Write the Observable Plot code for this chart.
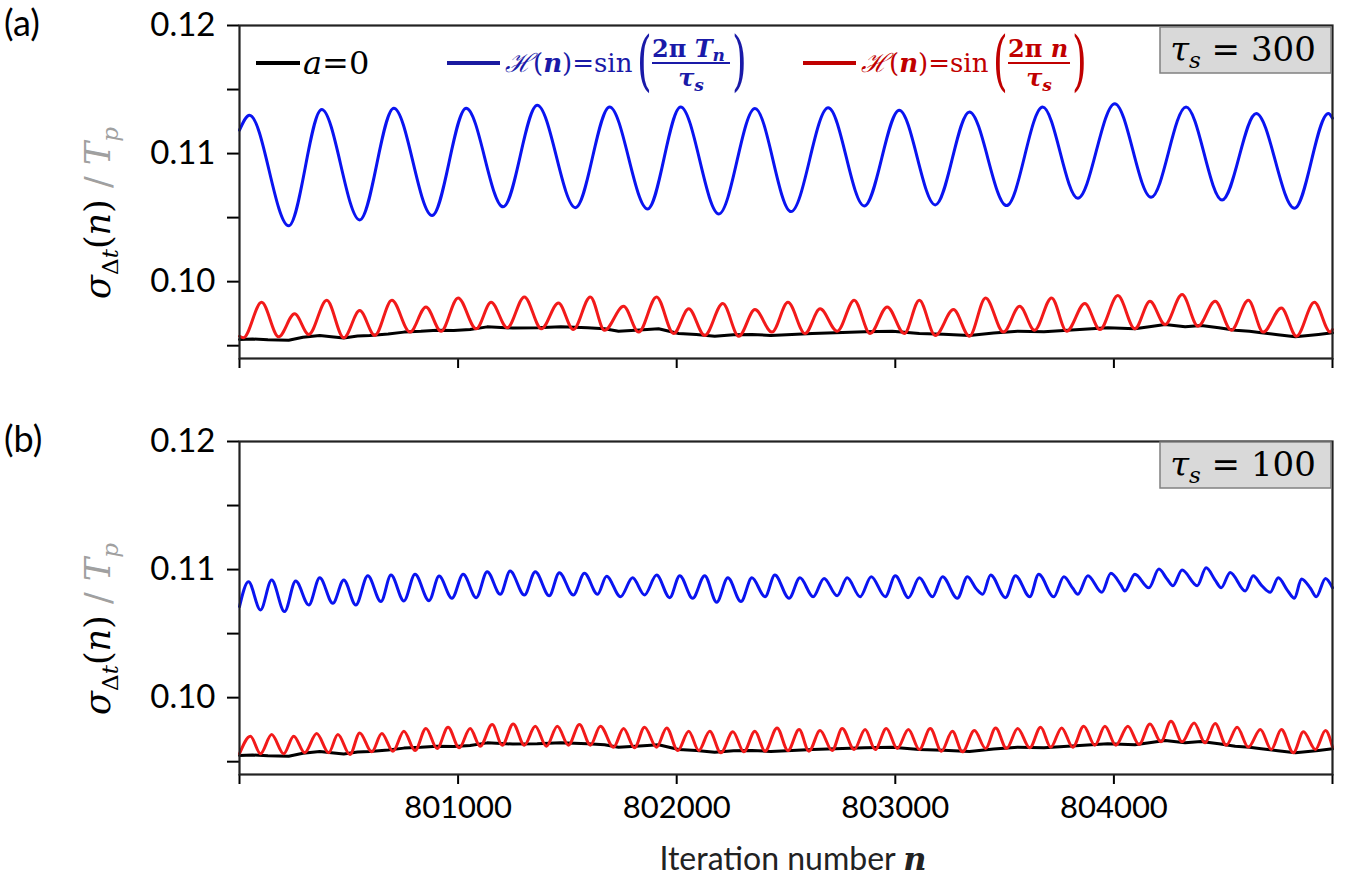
<!DOCTYPE html>
<html>
<head>
<meta charset="utf-8">
<script src="https://cdn.jsdelivr.net/npm/d3@7"></script>
<script src="https://cdn.jsdelivr.net/npm/@observablehq/plot@0.6"></script>
<style>
  html, body { margin: 0; padding: 0; background: white; }
  #wrap { position: relative; width: 1346px; height: 888px; overflow: hidden; }
  #pa, #pb, #ov { position: absolute; left: 0; }
  #pa { top: 0; }
  #pb { top: 416px; }
  #ov { top: 0; pointer-events: none; }
</style>
</head>
<body>
<div id="wrap">
  <div id="pa"></div>
  <div id="pb"></div>
  <svg id="ov" width="1346" height="888"></svg>
</div>
<script>
// ---------- data: [iteration n, sigma_dt / Tp] ----------
const xTicks = [800000, 801000, 802000, 803000, 804000, 805000];
const xTickLabels = [801000, 802000, 803000, 804000];
const yTicks = [0.095, 0.100, 0.105, 0.110, 0.115, 0.120];
const yTickLabels = [0.10, 0.11, 0.12];
const panelNames = ["(a)", "(b)"];
const tauValues = [300, 100];

// a = 0 baseline (same in both panels)
const baseA0 = [
  [800000,0.09549],[800060,0.09552],[800130,0.09546],[800225,0.09543],[800290,0.09566],
  [800367,0.09580],[800420,0.09570],[800477,0.09560],[800540,0.09575],[800596,0.09580],
  [800680,0.09592],[800752,0.09606],[800830,0.09612],[800904,0.09621],[800980,0.09618],
  [801055,0.09626],[801133,0.09647],[801250,0.09638],[801362,0.09640],[801470,0.09648],
  [801592,0.09640],[801670,0.09632],[801734,0.09613],[801830,0.09622],[801917,0.09632],
  [802009,0.09595],[802090,0.09588],[802174,0.09574],[802260,0.09585],[802344,0.09588],
  [802430,0.09580],[802527,0.09588],[802620,0.09596],[802725,0.09601],[802860,0.09608],
  [802986,0.09613],[803110,0.09595],[803220,0.09590],[803339,0.09580],[803450,0.09600],
  [803560,0.09613],[803680,0.09608],[803789,0.09621],[803880,0.09630],[803972,0.09640],
  [804096,0.09632],[804170,0.09650],[804234,0.09665],[804326,0.09647],[804399,0.09657],
  [804480,0.09640],[804555,0.09621],[804620,0.09612],[804674,0.09601],[804750,0.09585],
  [804830,0.09570],[804936,0.09588],[805000,0.09601]
];

// tau_s = 300, H(n) = sin(2π Tn / τs)
const blue300 = [
  [800000,0.11183],[800046,0.11300],[800225,0.10436],[800376,0.11344],[800550,0.10482],
  [800706,0.11354],[800881,0.10516],[801037,0.11354],[801206,0.10584],[801362,0.11377],
  [801537,0.10578],[801693,0.11364],[801867,0.10568],[802018,0.11364],[802193,0.10529],
  [802358,0.11352],[802523,0.10547],[802693,0.11357],[802858,0.10591],[803018,0.11339],
  [803183,0.10599],[803339,0.11325],[803509,0.10594],[803674,0.11364],[803835,0.10651],
  [804004,0.11390],[804170,0.10659],[804330,0.11364],[804495,0.10638],[804651,0.11313],
  [804826,0.10573],[804981,0.11313],[805000,0.11276]
];

// tau_s = 300, H(n) = sin(2π n / τs)
const red300 = [
  [800000,0.09574],[800018,0.09562],[800101,0.09839],[800179,0.09570],[800252,0.09749],
  [800317,0.09588],[800399,0.09855],[800477,0.09562],[800550,0.09774],[800619,0.09580],
  [800697,0.09855],[800780,0.09606],[800853,0.09803],[800922,0.09613],[801000,0.09873],
  [801083,0.09632],[801151,0.09839],[801225,0.09640],[801303,0.09881],[801381,0.09632],
  [801459,0.09834],[801527,0.09626],[801605,0.09881],[801670,0.09620],[801757,0.09808],
  [801826,0.09606],[801908,0.09881],[801986,0.09595],[802055,0.09788],[802128,0.09580],
  [802211,0.09829],[802284,0.09574],[802358,0.09782],[802436,0.09606],[802509,0.09839],
  [802587,0.09595],[802656,0.09788],[802734,0.09613],[802812,0.09855],[802885,0.09595],
  [802963,0.09803],[803041,0.09595],[803110,0.09855],[803183,0.09580],[803266,0.09782],
  [803339,0.09574],[803413,0.09873],[803495,0.09606],[803569,0.09808],[803637,0.09621],
  [803715,0.09873],[803784,0.09613],[803867,0.09829],[803936,0.09626],[804018,0.09891],
  [804096,0.09632],[804165,0.09847],[804234,0.09665],[804312,0.09899],[804385,0.09652],
  [804463,0.09847],[804537,0.09621],[804615,0.09855],[804683,0.09606],[804766,0.09795],
  [804835,0.09574],[804917,0.09839],[804990,0.09606],[805000,0.09626]
];

// tau_s = 100, H(n) = sin(2π Tn / τs)
const blue100 = [
  [800000,0.10711],[800041,0.10905],[800096,0.10685],[800147,0.10918],[800206,0.10672],
  [800257,0.10911],[800317,0.10724],[800367,0.10936],[800427,0.10737],[800477,0.10918],
  [800532,0.10724],[800587,0.10952],[800647,0.10750],[800693,0.10957],[800752,0.10755],
  [800803,0.10963],[800867,0.10757],[800913,0.10949],[800972,0.10776],[801023,0.10963],
  [801083,0.10781],[801133,0.10983],[801193,0.10807],[801238,0.10988],[801303,0.10802],
  [801353,0.10983],[801417,0.10796],[801463,0.10976],[801527,0.10802],[801578,0.10971],
  [801638,0.10807],[801679,0.10948],[801743,0.10788],[801798,0.10936],[801853,0.10802],
  [801908,0.10957],[801968,0.10781],[802014,0.10952],[802073,0.10776],[802128,0.10952],
  [802183,0.10745],[802234,0.10936],[802294,0.10750],[802344,0.10936],[802404,0.10788],
  [802449,0.10957],[802514,0.10776],[802564,0.10936],[802624,0.10788],[802674,0.10931],
  [802734,0.10796],[802780,0.10936],[802839,0.10788],[802890,0.10944],[802954,0.10788],
  [803000,0.10952],[803060,0.10781],[803110,0.10936],[803170,0.10788],[803216,0.10944],
  [803284,0.10776],[803330,0.10944],[803370,0.10850],[803400,0.10807],[803436,0.10957],
  [803504,0.10781],[803550,0.10952],[803615,0.10788],[803656,0.10963],[803725,0.10788],
  [803771,0.10944],[803812,0.10854],[803835,0.10807],[803881,0.10952],[803945,0.10823],
  [803986,0.10971],[804032,0.10879],[804050,0.10833],[804096,0.10963],[804160,0.10858],
  [804206,0.11004],[804243,0.10926],[804270,0.10874],[804312,0.10996],[804381,0.10874],
  [804422,0.11014],[804463,0.10918],[804491,0.10858],[804532,0.10978],[804601,0.10833],
  [804637,0.10952],[804674,0.10879],[804715,0.10823],[804752,0.10936],[804793,0.10840],
  [804826,0.10776],[804858,0.10926],[804899,0.10854],[804926,0.10788],[804968,0.10931],
  [805000,0.10858]
];

// tau_s = 100, H(n) = sin(2π n / τs)
const red100 = [
  [800000,0.09562],[800050,0.09699],[800096,0.09562],[800147,0.09712],[800202,0.09562],
  [800248,0.09699],[800298,0.09570],[800353,0.09720],[800408,0.09570],[800450,0.09712],
  [800505,0.09556],[800550,0.09725],[800605,0.09577],[800651,0.09720],[800702,0.09582],
  [800752,0.09738],[800803,0.09587],[800853,0.09759],[800904,0.09603],[800954,0.09769],
  [801005,0.09608],[801055,0.09759],[801101,0.09621],[801156,0.09790],[801202,0.09629],
  [801252,0.09795],[801303,0.09629],[801353,0.09777],[801404,0.09621],[801454,0.09777],
  [801505,0.09629],[801555,0.09790],[801605,0.09629],[801651,0.09777],[801711,0.09613],
  [801757,0.09759],[801807,0.09608],[801853,0.09769],[801908,0.09613],[801954,0.09764],
  [802005,0.09587],[802055,0.09738],[802101,0.09587],[802151,0.09738],[802202,0.09570],
  [802257,0.09733],[802307,0.09577],[802358,0.09738],[802404,0.09582],[802459,0.09764],
  [802509,0.09587],[802560,0.09751],[802605,0.09582],[802656,0.09743],[802711,0.09587],
  [802757,0.09759],[802812,0.09595],[802862,0.09751],[802908,0.09595],[802959,0.09759],
  [803009,0.09603],[803060,0.09751],[803110,0.09595],[803160,0.09759],[803211,0.09582],
  [803261,0.09738],[803307,0.09577],[803362,0.09743],[803413,0.09603],[803459,0.09764],
  [803509,0.09603],[803560,0.09759],[803615,0.09608],[803665,0.09769],[803711,0.09613],
  [803761,0.09764],[803812,0.09613],[803862,0.09777],[803913,0.09629],[803959,0.09777],
  [804009,0.09629],[804064,0.09777],[804115,0.09634],[804165,0.09795],[804215,0.09655],
  [804261,0.09816],[804312,0.09655],[804367,0.09803],[804417,0.09647],[804463,0.09798],
  [804514,0.09629],[804564,0.09769],[804615,0.09613],[804670,0.09751],[804720,0.09595],
  [804766,0.09751],[804821,0.09570],[804867,0.09733],[804922,0.09595],[804968,0.09743],
  [805000,0.09613]
];

// ---------- drawing ----------
const BLUE = "#0a14f0", RED = "#f21a1a", BLACK = "#000000";
const isLabY = d => yTickLabels.some(v => Math.abs(v - d) < 1e-9);

function panel(blue, red, showX, height, marginBottom) {
  return Plot.plot({
    width: 1346, height,
    marginLeft: 239, marginRight: 14, marginTop: 25, marginBottom,
    x: {domain: [800000, 805000]},
    y: {domain: [0.094, 0.12]},
    style: {fontFamily: "Lato, 'Open Sans', sans-serif", fontSize: "33px", color: "black", background: "white", overflow: "visible"},
    marks: [
      Plot.axisY({ticks: yTicks, tickSize: 12, tickPadding: 12, strokeWidth: 2,
        tickFormat: d => isLabY(d) ? d.toFixed(2) : "", label: null, fontSize: 33}),
      Plot.axisX({ticks: xTicks, tickSize: 10, tickPadding: 11, strokeWidth: 2,
        tickFormat: d => (showX && xTickLabels.includes(d)) ? String(d) : "", label: null, fontSize: 31}),
      Plot.line(baseA0, {x: d => d[0], y: d => d[1], stroke: BLACK, strokeWidth: 3}),
      Plot.line(red, {x: d => d[0], y: d => d[1], stroke: RED, strokeWidth: 3, curve: "monotone-x"}),
      Plot.line(blue, {x: d => d[0], y: d => d[1], stroke: BLUE, strokeWidth: 3, curve: "monotone-x"}),
      Plot.frame({stroke: "#222", strokeWidth: 2.2})
    ]
  });
}

document.getElementById("pa").appendChild(panel(blue300, red300, false, 400, 42));
document.getElementById("pb").appendChild(panel(blue100, red100, true, 472, 114));

// ---------- text overlays (labels, legend, annotations) ----------
const ov = d3.select("#ov");
const MATH = "'DejaVu Serif', 'Liberation Serif', serif";
const SANS = "Lato, 'Open Sans', sans-serif";

// panel labels
[[0, 0], [1, 416]].forEach(([i, dy]) => {
  ov.append("text").attr("x", 4).attr("y", 36 + dy).attr("font-family", SANS)
    .attr("font-size", 36).text(panelNames[i]);
});

// y-axis titles
[213, 629].forEach(cy => {
  const t = ov.append("text").attr("transform", `translate(110,${cy}) rotate(-90)`)
    .attr("text-anchor", "middle").attr("font-family", MATH).attr("font-size", 35);
  t.append("tspan").attr("font-style", "italic").text("σ");
  t.append("tspan").attr("font-size", 23).attr("dy", 8).text("Δ");
  t.append("tspan").attr("font-size", 23).attr("font-style", "italic").text("t");
  t.append("tspan").attr("dy", -8).text("(");
  t.append("tspan").attr("font-style", "italic").text("n");
  t.append("tspan").text(")");
  t.append("tspan").attr("fill", "#a0a0a0").text(" / ");
  t.append("tspan").attr("fill", "#a0a0a0").attr("font-style", "italic").text("T");
  t.append("tspan").attr("fill", "#a0a0a0").attr("font-size", 23).attr("font-style", "italic").attr("dy", 8).text("p");
});

// tau_s boxes
[[27, 0], [442, 1]].forEach(([top, i]) => {
  ov.append("rect").attr("x", 1160).attr("y", top).attr("width", 171).attr("height", 46)
    .attr("fill", "#d9d9d9").attr("stroke", "#808080").attr("stroke-width", 1.5);
  const t = ov.append("text").attr("x", 1243).attr("y", top + 34).attr("text-anchor", "middle")
    .attr("font-family", MATH).attr("font-size", 34);
  t.append("tspan").attr("font-style", "italic").text("τ");
  t.append("tspan").attr("font-style", "italic").attr("font-size", 23).attr("dy", 7).text("s");
  t.append("tspan").attr("dy", -7).text(" = " + tauValues[i]);
});

// legend
const LY = 63;
ov.append("line").attr("x1", 256).attr("x2", 300).attr("y1", LY).attr("y2", LY)
  .attr("stroke", "#000").attr("stroke-width", 4);
{
  const t = ov.append("text").attr("x", 303).attr("y", LY + 11).attr("font-family", MATH).attr("font-size", 32);
  t.append("tspan").attr("font-style", "italic").text("a");
  t.append("tspan").text("=0");
}

function mathLegend(x0, lineColor, textColor, numer, w) {
  ov.append("line").attr("x1", x0).attr("x2", x0 + 53).attr("y1", LY).attr("y2", LY)
    .attr("stroke", lineColor).attr("stroke-width", 4);
  const g = ov.append("g").attr("fill", textColor).attr("font-family", MATH);
  const t = g.append("text").attr("x", x0 + 58).attr("y", LY + 9).attr("font-size", 26);
  t.append("tspan").attr("font-style", "italic").text("ℋ");
  t.append("tspan").text("(");
  t.append("tspan").attr("font-weight", "bold").attr("font-style", "italic").text("n");
  t.append("tspan").text(")=sin");
  const px = x0 + 190;
  g.append("text").attr("x", px).attr("y", LY + 17).attr("font-size", 54).attr("font-weight", 200)
    .attr("transform", `translate(${px},${LY}) scale(0.7,1.2) translate(${-px},${-LY})`).text("(");
  const nx = px + 15;
  const num = g.append("text").attr("x", nx).attr("y", LY - 6).attr("font-size", 24).attr("font-weight", "bold");
  numer(num);
  g.append("line").attr("x1", nx).attr("x2", nx + w).attr("y1", LY).attr("y2", LY)
    .attr("stroke", textColor).attr("stroke-width", 1.8);
  const den = g.append("text").attr("x", nx + w / 2).attr("y", LY + 23).attr("text-anchor", "middle")
    .attr("font-size", 24).attr("font-weight", "bold");
  den.append("tspan").attr("font-style", "italic").text("τ");
  den.append("tspan").attr("font-style", "italic").attr("font-size", 17).attr("dy", 5).text("s");
  const cx = nx + w + 2;
  g.append("text").attr("x", cx).attr("y", LY + 17).attr("font-size", 54).attr("font-weight", 200)
    .attr("transform", `translate(${cx},${LY}) scale(0.7,1.2) translate(${-cx},${-LY})`).text(")");
}
function numBlue(t) {
  t.append("tspan").text("2π ");
  t.append("tspan").attr("font-style", "italic").text("T");
  t.append("tspan").attr("font-style", "italic").attr("font-size", 17).attr("dy", 4).text("n");
}
function numRed(t) {
  t.append("tspan").text("2π ");
  t.append("tspan").attr("font-style", "italic").text("n");
}
mathLegend(447, "#1a1aa0", "#1a1aa8", numBlue, 78);
mathLegend(803, "#c00000", "#c00000", numRed, 62);

// x-axis title
{
  const t = ov.append("text").attr("x", 793).attr("y", 870).attr("text-anchor", "middle")
    .attr("font-family", SANS).attr("font-size", 32).attr("fill", "#222");
  t.append("tspan").text("Iteration number ");
  t.append("tspan").attr("font-family", MATH).attr("font-weight", "bold").attr("font-style", "italic").text("n");
}
</script>
</body>
</html>
